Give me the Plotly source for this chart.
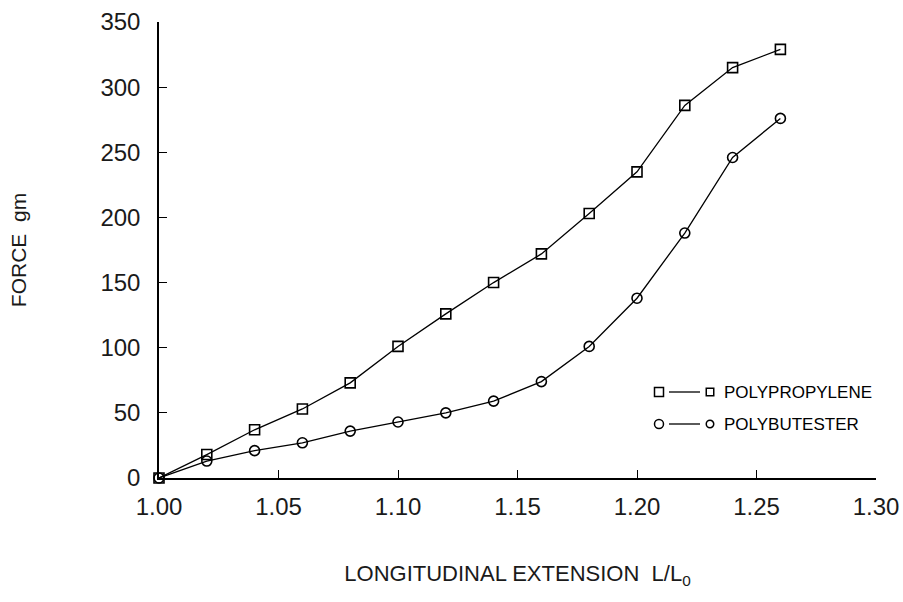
import plotly.graph_objects as go

extension = [1.00, 1.02, 1.04, 1.06, 1.08, 1.10, 1.12, 1.14, 1.16, 1.18, 1.20, 1.22, 1.24, 1.26]
polypropylene = [0, 18, 37, 53, 73, 101, 126, 150, 172, 203, 235, 286, 315, 329]
polybutester = [0, 13, 21, 27, 36, 43, 50, 59, 74, 101, 138, 188, 246, 276]

x_ticks = [1.00, 1.05, 1.10, 1.15, 1.20, 1.25, 1.30]
x_tick_labels = ["1.00", "1.05", "1.10", "1.15", "1.20", "1.25", "1.30"]
y_ticks = [0, 50, 100, 150, 200, 250, 300, 350]

FONT = "Liberation Sans, Arial, sans-serif"
W, H = 903, 602
L, R, T, B = 159, 27, 22, 124
PW, PH = W - L - R, H - T - B

fig = go.Figure()
fig.add_trace(go.Scatter(
    x=extension, y=polypropylene, mode="lines+markers", name="POLYPROPYLENE",
    line=dict(color="black", width=1.3),
    marker=dict(symbol="square-open", size=10, color="black", line=dict(width=1.6)),
    cliponaxis=False, showlegend=False))
fig.add_trace(go.Scatter(
    x=extension, y=polybutester, mode="lines+markers", name="POLYBUTESTER",
    line=dict(color="black", width=1.3),
    marker=dict(symbol="circle-open", size=10, color="black", line=dict(width=1.6)),
    cliponaxis=False, showlegend=False))

def px(xp):
    return (xp - L) / PW

def py(yp):
    return (H - B - yp) / PH

shapes = []
annotations = []
rows = [("POLYPROPYLENE", "rect", 392), ("POLYBUTESTER", "circle", 424)]
for label, kind, yy in rows:
    for cx, s in [(659, 9), (710, 7.5)]:
        shapes.append(dict(type=kind, xref="paper", yref="paper",
                           x0=px(cx - s / 2), x1=px(cx + s / 2),
                           y0=py(yy + s / 2), y1=py(yy - s / 2),
                           line=dict(color="black", width=1.5)))
    shapes.append(dict(type="line", xref="paper", yref="paper",
                       x0=px(669), x1=px(700), y0=py(yy), y1=py(yy),
                       line=dict(color="black", width=1.3)))
    annotations.append(dict(text=label, xref="paper", yref="paper",
                            x=px(722), y=py(yy), xanchor="left", yanchor="middle",
                            showarrow=False, font=dict(family=FONT, size=17, color="black")))

fig.update_layout(
    width=W, height=H,
    margin=dict(l=L, r=R, t=T, b=B),
    paper_bgcolor="white", plot_bgcolor="white",
    font=dict(family=FONT, color="black"),
    shapes=shapes, annotations=annotations,
    xaxis=dict(range=[1.0, 1.3], tickvals=x_ticks, ticktext=x_tick_labels,
               automargin=False, ticklabelstandoff=6,
               ticks="inside", ticklen=8, tickwidth=1.3, tickcolor="black",
               showline=True, linecolor="black", linewidth=1.5,
               showgrid=False, zeroline=False,
               tickfont=dict(family=FONT, size=24, color="#1a1a1a"),
               title=dict(text="LONGITUDINAL EXTENSION  L/L<sub>0</sub>",
                          font=dict(family=FONT, size=22, color="#1a1a1a"), standoff=47)),
    yaxis=dict(range=[0, 350], tickvals=y_ticks,
               automargin=False, ticklabelstandoff=12,
               ticks="inside", ticklen=8, tickwidth=1.3, tickcolor="black",
               showline=True, linecolor="black", linewidth=1.5,
               showgrid=False, zeroline=False,
               tickfont=dict(family=FONT, size=24, color="#1a1a1a"),
               title=dict(text="FORCE  gm",
                          font=dict(family=FONT, size=21, color="#1a1a1a"), standoff=68)),
)

fig.write_html(
    "out.html",
    config={"displayModeBar": False},
    post_script="document.body.style.margin='0';document.body.style.overflow='hidden';",
)
